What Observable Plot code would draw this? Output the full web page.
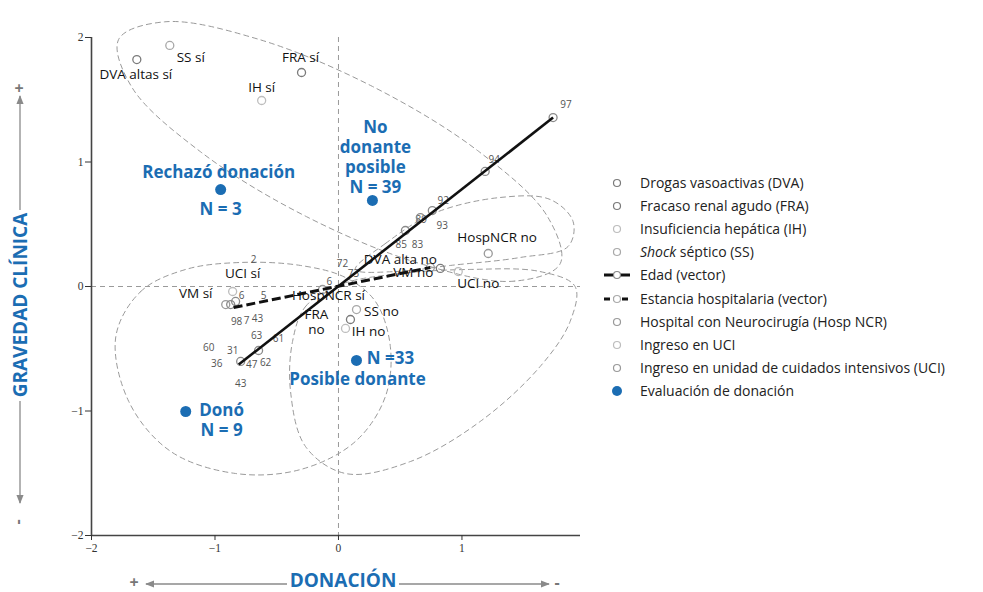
<!DOCTYPE html>
<html><head><meta charset="utf-8">
<script src="https://cdn.jsdelivr.net/npm/d3@7"></script>
<script src="https://cdn.jsdelivr.net/npm/@observablehq/plot@0.6"></script>
<style>
body{margin:0;background:#fff;font-family:'Open Sans',sans-serif;}
#wrap{position:relative;width:983px;height:592px;overflow:hidden;background:#fff;}
#chart{position:absolute;left:0;top:0;}
#legend{position:absolute;left:602px;top:171px;font-size:14px;color:#222;line-height:1;}
.row{height:23.2px;display:flex;align-items:center;white-space:nowrap;}
.row svg{width:34px;height:14px;margin-right:4px;flex:none;}
#deco{position:absolute;left:0;top:0;pointer-events:none;}
.ttl{position:absolute;color:#1b6db3;font-weight:700;font-size:19px;white-space:nowrap;line-height:1;}
</style></head><body>
<div id="wrap">
<div id="chart"></div>
<svg id="deco" width="983" height="592"></svg>
<div class="ttl" id="ytitle">GRAVEDAD CLÍNICA</div>
<div class="ttl" id="xtitle">DONACIÓN</div>
<div id="legend"></div>
</div>
<script>
// ---------- data ----------
const xTicks = [-2, -1, 0, 1];
const yTicks = [-2, -1, 0, 1, 2];

// category points (variable, x, y)
const catVars = ["DVA","DVA","FRA","FRA","IH","IH","SS","SS","HospNCR","HospNCR","UCI","UCI","VM","VM"];
const catX = [-1.633, 0.825, -0.299, 0.097, -0.622, 0.057, -1.366, 0.146, 1.213, -0.129, 0.970, -0.857, 0.744, -0.913];
const catY = [1.823, 0.145, 1.719, -0.265, 1.494, -0.337, 1.936, -0.185, 0.265, -0.024, 0.120, -0.040, 0.153, -0.145];

// category labels
const labelText = ["DVA altas sí","SS sí","FRA sí","IH sí","HospNCR no","UCI no","DVA alta no","VM no","SS no","FRA\nno","IH no","HospNCR sí","UCI sí","VM sí"];
const labelX = [-1.641, -1.196, -0.307, -0.622, 1.285, 1.132, 0.501, 0.606, 0.348, -0.178, 0.243, -0.081, -0.776, -1.156];
const labelY = [1.703, 1.839, 1.839, 1.598, 0.394, 0.024, 0.217, 0.112, -0.201, -0.281, -0.361, -0.072, 0.104, -0.056];

// supplementary (age) points along the vectors
const agePtX = [1.738, 1.188, 0.760, 0.663, 0.542, -0.647, -0.792, -0.873, -0.833];
const agePtY = [1.357, 0.924, 0.610, 0.554, 0.450, -0.514, -0.602, -0.145, -0.120];

// small number labels
const numText = ["97","94","92","89","93","85","83","72","73","6","2","6","5","98","7","43","63","61","60","31","36","47","62","43"];
const numX = [1.843, 1.261, 0.849, 0.671, 0.841, 0.509, 0.639, 0.032, 0.121, -0.073, -0.687, -0.784, -0.606, -0.825, -0.744, -0.655, -0.663, -0.485, -1.051, -0.857, -0.986, -0.703, -0.590, -0.792];
const numY = [1.462, 1.020, 0.691, 0.538, 0.490, 0.337, 0.337, 0.185, 0.104, 0.040, 0.217, -0.072, -0.072, -0.281, -0.273, -0.257, -0.394, -0.418, -0.490, -0.514, -0.618, -0.627, -0.610, -0.779];

// vectors
const vecName = ["Edad", "Estancia"];
const vecX1 = [-0.808, -0.849], vecY1 = [-0.627, -0.169];
const vecX2 = [1.738, 0.744],  vecY2 = [1.357, 0.153];

// donation evaluation groups
const groupName = ["Rechazó donación", "No donante posible", "Posible donante", "Donó"];
const groupX = [-0.954, 0.275, 0.146, -1.237];
const groupY = [0.779, 0.691, -0.594, -1.004];

const groupLabelText = ["Rechazó donación", "N = 3", "No\ndonante\nposible\nN = 39", "N =33", "Posible donante", "Donó\nN = 9"];
const groupLabelX = [-0.970, -0.954, 0.299, 0.421, 0.154, -0.946];
const groupLabelY = [0.924, 0.627, 1.044, -0.570, -0.737, -1.068];

// concentration ellipses: outline points
const ellRechazoX = [1.796, 1.424, 0.671, -0.259, -1.117, -1.674, -1.780, -1.407, -0.655, 0.275, 1.133, 1.690];
const ellRechazoY = [0.184, 0.043, 0.181, 0.561, 1.082, 1.602, 1.985, 2.126, 1.988, 1.607, 1.087, 0.566];
const ellNoDonX = [0.137, 0.380, 0.768, 1.310, 1.714, 1.900, 1.859, 1.471, 0.905, 0.461];
const ellNoDonY = [0.137, 0.345, 0.586, 0.715, 0.699, 0.522, 0.321, 0.233, 0.169, 0.120];
const ellDonoX = [-1.803, -1.601, -1.237, -0.792, -0.307, 0.057, 0.299, 0.420, 0.380, 0.137, -0.307, -0.833, -1.358, -1.698];
const ellDonoY = [-0.402, -0.040, 0.137, 0.193, 0.169, 0.072, -0.120, -0.482, -0.884, -1.245, -1.470, -1.502, -1.325, -0.924];
const ellPosX = [-0.372, -0.267, 0.016, 0.501, 1.067, 1.633, 1.916, 1.876, 1.633, 1.148, 0.582, 0.057, -0.267, -0.388];
const ellPosY = [-0.442, -0.161, 0.016, 0.104, 0.137, 0.120, 0.000, -0.281, -0.643, -1.084, -1.406, -1.502, -1.285, -0.843];

const legendItems = ["Drogas vasoactivas (DVA)", "Fracaso renal agudo (FRA)", "Insuficiencia hepática (IH)", "<i>Shock</i> séptico (SS)", "Edad (vector)", "Estancia hospitalaria (vector)", "Hospital con Neurocirugía (Hosp NCR)", "Ingreso en UCI", "Ingreso en unidad de cuidados intensivos (UCI)", "Evaluación de donación"];
const legendKind = ["DVA","FRA","IH","SS","Edad","Estancia","HospNCR","UCI","VM","Grupo"];

// ---------- styles ----------
const BLUE = "#1b6db3";
const shade = {DVA:"#7a7a7a", FRA:"#7a7a7a", IH:"#bdbdbd", SS:"#a8a8a8", HospNCR:"#999", UCI:"#bdbdbd", VM:"#999", Edad:"#8a8a8a"};

// ---------- tables ----------
const cats = catVars.map((v,i)=>({v, x:catX[i], y:catY[i]}));
const labels = labelText.map((t,i)=>({t, x:labelX[i], y:labelY[i]}));
const agePts = agePtX.map((x,i)=>({x, y:agePtY[i]}));
const nums = numText.map((t,i)=>({t, x:numX[i], y:numY[i]}));
const vecs = vecName.map((n,i)=>({n, x1:vecX1[i], y1:vecY1[i], x2:vecX2[i], y2:vecY2[i]}));
const groups = groupName.map((n,i)=>({n, x:groupX[i], y:groupY[i]}));
const glabels = groupLabelText.map((t,i)=>({t, x:groupLabelX[i], y:groupLabelY[i]}));
const ell = [];
[["Rechazo",ellRechazoX,ellRechazoY],["NoDon",ellNoDonX,ellNoDonY],["Dono",ellDonoX,ellDonoY],["Pos",ellPosX,ellPosY]]
  .forEach(([g,xs,ys])=>xs.forEach((x,i)=>ell.push({g, x, y:ys[i]})));

const fmt = d3.format("d");
const SERIF = "'Liberation Serif', 'DejaVu Serif', serif";
const plot = Plot.plot({
  width: 983, height: 592,
  marginLeft: 91, marginRight: 403, marginTop: 37, marginBottom: 57,
  x: {domain: [-2, 1.96]},
  y: {domain: [-2, 2]},
  style: {fontFamily: "'Open Sans', sans-serif", fontSize: "13px", overflow: "visible", background: "transparent"},
  marks: [
    Plot.ruleX([0], {stroke: "#9a9a9a", strokeDasharray: "5,4", strokeWidth: 1}),
    Plot.ruleY([0], {stroke: "#9a9a9a", strokeDasharray: "5,4", strokeWidth: 1}),
    Plot.line(ell, {x: "x", y: "y", z: "g", curve: "catmull-rom-closed", stroke: "#9a9a9a", strokeDasharray: "5,4", strokeWidth: 1}),
    Plot.ruleX([-2], {stroke: "#444", strokeWidth: 1.6}),
    Plot.ruleY([-2], {stroke: "#444", strokeWidth: 1.6}),
    Plot.axisY({ticks: yTicks, tickFormat: fmt, tickSize: 6, tickPadding: 2, fontFamily: SERIF, fontSize: 11.5, color: "#333", label: null}),
    Plot.axisX({ticks: xTicks, tickFormat: fmt, tickSize: 5, tickPadding: 3, fontFamily: SERIF, fontSize: 11.5, color: "#333", label: null}),
    Plot.text(nums, {x: "x", y: "y", text: "t", fontSize: 10, fill: "#555"}),
    Plot.dot(cats, {x: "x", y: "y", r: 4, stroke: d => shade[d.v], strokeWidth: 1.3, fill: "none"}),
    Plot.dot(agePts, {x: "x", y: "y", r: 4, stroke: shade.Edad, strokeWidth: 1.3, fill: "none"}),
    Plot.link(vecs.filter(d=>d.n==="Edad"), {x1: "x1", y1: "y1", x2: "x2", y2: "y2", stroke: "#111", strokeWidth: 2.6}),
    Plot.link(vecs.filter(d=>d.n==="Estancia"), {x1: "x1", y1: "y1", x2: "x2", y2: "y2", stroke: "#111", strokeWidth: 3, strokeDasharray: "9,4"}),
    Plot.text(labels, {x: "x", y: "y", text: "t", fontSize: 13.5, fill: "#111", lineHeight: 1.1}),
    Plot.dot(groups, {x: "x", y: "y", r: 5.5, fill: BLUE}),
    Plot.text(glabels, {x: "x", y: "y", text: "t", fontSize: 17, fontWeight: "bold", fill: BLUE, lineHeight: 1.18})
  ]
});
document.getElementById("chart").appendChild(plot);
d3.selectAll('#chart g[aria-label*="tick label"]').style("font-family", SERIF).selectAll("text").style("font-family", SERIF);

// legend
const lg = document.getElementById("legend");
legendKind.forEach((k,i)=>{
  const row = document.createElement("div");
  row.className = "row";
  let sym;
  if (k==="Edad") sym = `<line x1="2" y1="7" x2="28" y2="7" stroke="#111" stroke-width="3"/><circle cx="15" cy="7" r="3.5" fill="#fff" stroke="#888" stroke-width="1.2"/>`;
  else if (k==="Estancia") sym = `<line x1="2" y1="7" x2="28" y2="7" stroke="#111" stroke-width="3" stroke-dasharray="6,3"/><circle cx="15" cy="7" r="3.5" fill="#fff" stroke="#aaa" stroke-width="1.2"/>`;
  else if (k==="Grupo") sym = `<circle cx="15" cy="7" r="5" fill="${BLUE}"/>`;
  else sym = `<circle cx="15" cy="7" r="3.5" fill="none" stroke="${shade[k]}" stroke-width="1.2"/>`;
  row.innerHTML = `<svg viewBox="0 0 34 14">${sym}</svg><span>${legendItems[i]}</span>`;
  lg.appendChild(row);
});

// axis titles with arrows
const yt = document.getElementById("ytitle");
yt.style.left = "20px"; yt.style.top = "305px";
yt.style.transform = "translate(-50%,-50%) rotate(-90deg)";
const xt = document.getElementById("xtitle");
xt.style.left = "343px"; xt.style.top = "580px";
xt.style.transform = "translate(-50%,-50%)";
const deco = d3.select("#deco");
const defs = deco.append("defs");
defs.append("marker").attr("id","ah").attr("viewBox","0 0 10 10").attr("refX",9).attr("refY",5)
  .attr("markerWidth",7).attr("markerHeight",7).attr("orient","auto-start-reverse")
  .append("path").attr("d","M0,1 L10,5 L0,9 Z").attr("fill","#8a8a8a");
const g = "#8a8a8a";
deco.append("line").attr("x1",20).attr("y1",210).attr("x2",20).attr("y2",96).attr("stroke",g).attr("stroke-width",1.3).attr("marker-end","url(#ah)");
deco.append("line").attr("x1",20).attr("y1",401).attr("x2",20).attr("y2",503).attr("stroke",g).attr("stroke-width",1.3).attr("marker-end","url(#ah)");
deco.append("line").attr("x1",287).attr("y1",584).attr("x2",146).attr("y2",584).attr("stroke",g).attr("stroke-width",1.3).attr("marker-end","url(#ah)");
deco.append("line").attr("x1",399).attr("y1",584).attr("x2",549).attr("y2",584).attr("stroke",g).attr("stroke-width",1.3).attr("marker-end","url(#ah)");
deco.append("text").attr("x",19).attr("y",94).attr("text-anchor","middle").attr("fill","#777").attr("font-size",16).attr("font-weight","bold").text("+");
deco.append("text").attr("x",19).attr("y",522).attr("text-anchor","middle").attr("fill","#777").attr("font-size",16).attr("font-weight","bold")
  .attr("transform","rotate(-90,19,522)").attr("dominant-baseline","middle").text("-");
deco.append("text").attr("x",134).attr("y",584).attr("text-anchor","middle").attr("dominant-baseline","middle").attr("fill","#777").attr("font-size",16).attr("font-weight","bold").text("+");
deco.append("text").attr("x",557).attr("y",584).attr("text-anchor","middle").attr("dominant-baseline","middle").attr("fill","#777").attr("font-size",16).attr("font-weight","bold").text("-");
</script>
</body></html>
